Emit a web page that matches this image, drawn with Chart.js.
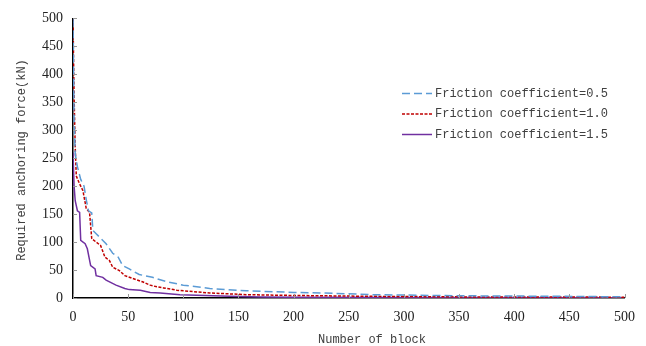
<!doctype html>
<html lang="en">
<head>
<meta charset="utf-8" />
<title>Required anchoring force vs number of block</title>
<script src="https://cdn.jsdelivr.net/npm/chart.js@4.4.4/dist/chart.umd.min.js"></script>
<style>
  html, body { margin: 0; padding: 0; background: #fff; }
  #wrap { width: 646px; height: 346px; position: relative; }
</style>
</head>
<body>
<div id="wrap"><canvas id="chart" width="646" height="346"></canvas></div>
<script>
// values: [block, force kN]
const mu05 = [
  [0, 500], [1, 320], [2, 258], [4, 235], [7, 212], [10, 200], [12, 176], [14, 156],
  [17, 152], [18, 121], [21, 115], [30, 97], [36, 80], [41, 73], [45, 58], [51, 52],
  [60, 42], [72, 37], [85, 29], [100, 23], [124, 17], [157, 13], [200, 10], [227, 9],
  [272, 6], [347, 4], [447, 3], [500, 2],
];
const mu10 = [
  [0, 500], [1, 360], [2, 270], [3, 218], [6, 204], [9, 192], [12, 160], [15, 153],
  [17, 106], [21, 100], [25, 94], [29, 73], [33, 67], [36, 55], [42, 49], [47, 40],
  [54, 35], [63, 29], [70, 23], [76, 20], [82, 18], [94, 14], [124, 9], [157, 6],
  [200, 4.5], [270, 3], [350, 2], [500, 1.5],
];
const mu15 = [
  [0, 260], [1, 200], [2, 174], [4, 156], [6, 153], [7, 103], [11, 97], [13, 88],
  [16, 58], [20, 52], [21, 40], [27, 37], [30, 32], [39, 23], [47, 17], [51, 15],
  [61, 13.7], [70, 10], [79, 9], [97, 6], [142, 3], [170, 2], [200, 1.2], [300, 0.8],
  [500, 0.5],
];
const seriesLabels = ["Friction coefficient=0.5", "Friction coefficient=1.0", "Friction coefficient=1.5"];
const xTicks = [0, 50, 100, 150, 200, 250, 300, 350, 400, 450, 500];
const yTicks = [0, 50, 100, 150, 200, 250, 300, 350, 400, 450, 500];

const styles = [
  { color: "#5b9bd5", dash: [8, 4] },
  { color: "#c00000", dash: [3, 1.5] },
  { color: "#7030a0", dash: [] },
];
const MONO = "'Liberation Mono', 'DejaVu Sans Mono', monospace";

const datasets = [mu05, mu10, mu15].map((pts, i) => ({
  label: seriesLabels[i],
  data: pts.map(([x, y]) => ({ x, y })),
  borderColor: styles[i].color,
  borderDash: styles[i].dash,
  borderWidth: 1.5,
  pointRadius: 0,
  tension: 0,
  fill: false,
}));

// inner tick marks, axis titles and legend drawn on top of the chart
const decor = {
  id: "decor",
  afterDraw(chart) {
    const { ctx, chartArea, scales } = chart;
    ctx.save();
    ctx.strokeStyle = "#999";
    ctx.lineWidth = 1;
    xTicks.forEach((v) => {
      const px = Math.round(scales.x.getPixelForValue(v)) + 0.5;
      ctx.beginPath();
      ctx.moveTo(px, chartArea.bottom);
      ctx.lineTo(px, chartArea.bottom - 4);
      ctx.stroke();
    });
    yTicks.forEach((v) => {
      const py = Math.round(scales.y.getPixelForValue(v)) + 0.5;
      ctx.beginPath();
      ctx.moveTo(chartArea.left, py);
      ctx.lineTo(chartArea.left + 4, py);
      ctx.stroke();
    });

    ctx.fillStyle = "#404040";
    ctx.font = "12px " + MONO;
    ctx.textAlign = "center";
    ctx.textBaseline = "middle";
    ctx.fillText("Number of block", 372, 340);
    ctx.save();
    ctx.translate(22, 160);
    ctx.rotate(-Math.PI / 2);
    ctx.fillText("Required anchoring force(kN)", 0, 0);
    ctx.restore();

    ctx.textAlign = "left";
    seriesLabels.forEach((lab, i) => {
      const y = 93.5 + i * 20.5;
      ctx.strokeStyle = styles[i].color;
      ctx.lineWidth = 1.5;
      ctx.setLineDash(styles[i].dash);
      ctx.beginPath();
      ctx.moveTo(402, y);
      ctx.lineTo(432, y);
      ctx.stroke();
      ctx.setLineDash([]);
      ctx.fillText(lab, 435, y);
    });
    ctx.restore();
  },
};

new Chart(document.getElementById("chart"), {
  type: "line",
  data: { datasets },
  plugins: [decor],
  options: {
    responsive: false,
    animation: false,
    layout: { padding: { left: 35, top: 18, right: 21, bottom: 0 } },
    scales: {
      x: {
        type: "linear",
        min: 0,
        max: 500,
        afterBuildTicks: (s) => { s.ticks = xTicks.map((v) => ({ value: v })); },
        afterFit: (s) => { s.height = 48; },
        grid: { display: false, drawTicks: false },
        border: { color: "#000", width: 1.5 },
        ticks: { padding: 11, maxRotation: 0, color: "#222", font: { family: "'Liberation Serif', serif", size: 14 } },
      },
      y: {
        min: 0,
        max: 500,
        afterBuildTicks: (s) => { s.ticks = yTicks.map((v) => ({ value: v })); },
        afterFit: (s) => { s.width = 38; },
        grid: { display: false, drawTicks: false },
        border: { color: "#000", width: 1.5 },
        ticks: { padding: 10, color: "#222", font: { family: "'Liberation Serif', serif", size: 14 } },
      },
    },
    plugins: { legend: { display: false }, tooltip: { enabled: false } },
  },
});
</script>
</body>
</html>
